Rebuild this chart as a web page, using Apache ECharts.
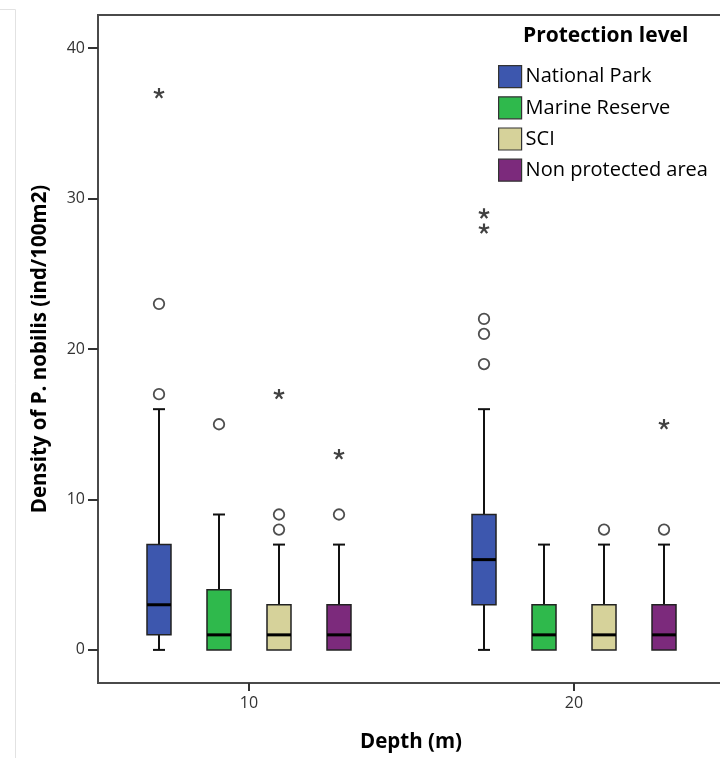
<!DOCTYPE html>
<html>
<head>
<meta charset="utf-8">
<title>Density of P. nobilis by depth and protection level</title>
<script src="https://cdn.jsdelivr.net/npm/echarts@6/dist/echarts.min.js"></script>
<style>
  html, body { margin: 0; padding: 0; background: #fff; }
  #chart { width: 720px; height: 758px; }
</style>
</head>
<body>
<div id="chart"></div>
<script>
// ---- data ----
const depths = [10, 20];
const levels = ['National Park', 'Marine Reserve', 'SCI', 'Non protected area'];
const levelColors = ['#3d57ae', '#2fb94c', '#d6d29a', '#7c2a7c'];

// five-number summaries per depth: [min, Q1, median, Q3, max]
const nationalParkBoxes = [[0, 1, 3, 7, 16], [0, 3, 6, 9, 16]];
const marineReserveBoxes = [[0, 0, 1, 4, 9], [0, 0, 1, 3, 7]];
const sciBoxes = [[0, 0, 1, 3, 7], [0, 0, 1, 3, 7]];
const nonProtectedBoxes = [[0, 0, 1, 3, 7], [0, 0, 1, 3, 7]];

// outliers (circles) and extremes (asterisks): [depth, density]
const nationalParkOutliers = [[10, 17], [10, 23], [20, 19], [20, 21], [20, 22]];
const nationalParkExtremes = [[10, 37], [20, 28], [20, 29]];
const marineReserveOutliers = [[10, 15]];
const marineReserveExtremes = [];
const sciOutliers = [[10, 8], [10, 9], [20, 8]];
const sciExtremes = [[10, 17]];
const nonProtectedOutliers = [[10, 9], [20, 8]];
const nonProtectedExtremes = [[10, 13], [20, 15]];

const yTicks = [0, 10, 20, 30, 40];
const xTicks = [10, 20];

// ---- layout / style ----
const BOX_WIDTH = 24;
const CAP_WIDTH = 12;
const LEVEL_OFFSETS = [-90, -30, 30, 90]; // px shift of each level inside a depth group
const FONT = '"Open Sans", "DejaVu Sans", sans-serif';

const boxSets = [nationalParkBoxes, marineReserveBoxes, sciBoxes, nonProtectedBoxes];
const outlierSets = [nationalParkOutliers, marineReserveOutliers, sciOutliers, nonProtectedOutliers];
const extremeSets = [nationalParkExtremes, marineReserveExtremes, sciExtremes, nonProtectedExtremes];

// five-armed asterisk used for extreme values
function asteriskPath() {
  const arms = 5, w = 0.2;
  let d = '';
  for (let i = 0; i < arms; i++) {
    const a = -Math.PI / 2 + i * 2 * Math.PI / arms;
    const ux = Math.cos(a), uy = Math.sin(a);
    const px = -uy * w, py = ux * w;
    const pts = [[px, py], [ux + px, uy + py], [ux - px, uy - py], [-px, -py]];
    d += 'M' + pts.map(p => (p[0] + 1).toFixed(3) + ' ' + (p[1] + 1).toFixed(3)).join('L') + 'Z';
  }
  return 'path://' + d;
}
const ASTERISK = asteriskPath();

function boxRenderer(levelIndex) {
  return function (params, api) {
    const depth = api.value(0);
    const x = api.coord([depth, 0])[0] + LEVEL_OFFSETS[levelIndex];
    const yOf = v => api.coord([depth, v])[1];
    const vMin = api.value(1), q1 = api.value(2), med = api.value(3), q3 = api.value(4), vMax = api.value(5);
    const yMin = yOf(vMin), yQ1 = yOf(q1), yMed = yOf(med), yQ3 = yOf(q3), yMax = yOf(vMax);
    const half = BOX_WIDTH / 2, cap = CAP_WIDTH / 2;
    const lineStyle = { stroke: '#111', lineWidth: 2 };
    const children = [];
    if (vMax > q3) {
      children.push({ type: 'line', shape: { x1: x, y1: yQ3, x2: x, y2: yMax }, style: lineStyle });
      children.push({ type: 'line', shape: { x1: x - cap, y1: yMax, x2: x + cap, y2: yMax }, style: lineStyle });
    }
    if (vMin < q1) {
      children.push({ type: 'line', shape: { x1: x, y1: yQ1, x2: x, y2: yMin }, style: lineStyle });
      children.push({ type: 'line', shape: { x1: x - cap, y1: yMin, x2: x + cap, y2: yMin }, style: lineStyle });
    }
    children.push({
      type: 'rect',
      shape: { x: x - half, y: yQ3, width: BOX_WIDTH, height: yQ1 - yQ3 },
      style: { fill: levelColors[levelIndex], stroke: '#222', lineWidth: 1.5 }
    });
    children.push({
      type: 'line',
      shape: { x1: x - half, y1: yMed, x2: x + half, y2: yMed },
      style: { stroke: '#000', lineWidth: 3 }
    });
    return { type: 'group', children: children };
  };
}

const series = [];
levels.forEach((name, i) => {
  series.push({
    name: name,
    type: 'custom',
    renderItem: boxRenderer(i),
    itemStyle: { color: levelColors[i] },
    encode: { x: 0, y: [1, 2, 3, 4, 5] },
    data: depths.map((d, k) => [d].concat(boxSets[i][k])),
    z: 2
  });
});
levels.forEach((name, i) => {
  series.push({
    name: name + ' outliers',
    type: 'scatter',
    data: outlierSets[i],
    symbol: 'circle',
    symbolSize: 10.5,
    symbolOffset: [LEVEL_OFFSETS[i], 0],
    itemStyle: { color: '#fff', borderColor: '#222', borderWidth: 1.8 },
    z: 3
  });
  series.push({
    name: name + ' extremes',
    type: 'scatter',
    data: extremeSets[i],
    symbol: ASTERISK,
    symbolSize: 11,
    symbolKeepAspect: true,
    symbolOffset: [LEVEL_OFFSETS[i], 0],
    itemStyle: { color: '#111' },
    z: 3
  });
});

const chart = echarts.init(document.getElementById('chart'), null, { renderer: 'canvas' });
chart.setOption({
  animation: false,
  backgroundColor: '#fff',
  color: levelColors,
  graphic: [{
    type: 'polyline',
    shape: { points: [[0, 9.5], [15.5, 9.5], [15.5, 758]] },
    style: { stroke: '#e2e2e2', lineWidth: 1, fill: null },
    silent: true
  }],
  title: {
    text: 'Protection level',
    left: 523,
    top: 26,
    textStyle: { fontFamily: FONT, fontSize: 21, fontWeight: 'bold', color: '#000' },
    padding: 0
  },
  legend: {
    data: levels,
    orient: 'vertical',
    left: 498,
    top: 65,
    padding: 0,
    itemWidth: 23,
    itemHeight: 22,
    itemGap: 8,
    icon: 'rect',
    itemStyle: { borderColor: '#333', borderWidth: 1.2 },
    textStyle: { fontFamily: FONT, fontSize: 20, color: '#000', padding: [0, 0, 0, -1] },
    selectedMode: false
  },
  grid: {
    left: 98,
    top: 15,
    width: 626,
    height: 668,
    show: true,
    borderColor: '#4a4a4a',
    borderWidth: 2,
    containLabel: false,
    outerBoundsMode: 'none'
  },
  xAxis: {
    type: 'value',
    min: 5.354,
    max: 24.615,
    name: 'Depth (m)',
    nameLocation: 'middle',
    nameGap: 49,
    nameTextStyle: { fontFamily: FONT, fontSize: 20.5, fontWeight: 'bold', color: '#000' },
    axisLine: { show: false, onZero: false },
    axisTick: { show: true, length: 8, customValues: xTicks, lineStyle: { color: '#333', width: 2 } },
    axisLabel: { customValues: xTicks, margin: 12, fontFamily: FONT, fontSize: 16, color: '#333' },
    splitLine: { show: false }
  },
  yAxis: {
    type: 'value',
    min: -2.2,
    max: 42.2,
    name: 'Density of P. nobilis (ind/100m2)',
    nameLocation: 'middle',
    nameGap: 47,
    nameTextStyle: { fontFamily: FONT, fontSize: 20.5, fontWeight: 'bold', color: '#000' },
    axisLine: { show: false, onZero: false },
    axisTick: { show: true, length: 10, customValues: yTicks, lineStyle: { color: '#333', width: 2 } },
    axisLabel: { customValues: yTicks, margin: 13, fontFamily: FONT, fontSize: 16, color: '#333' },
    splitLine: { show: false }
  },
  series: series
});
</script>
</body>
</html>
